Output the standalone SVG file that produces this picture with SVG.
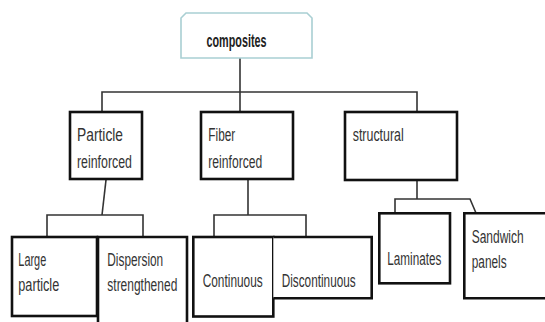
<svg xmlns="http://www.w3.org/2000/svg" width="545" height="322" viewBox="0 0 545 322">
<defs>
<style>
.box{fill:#fff;stroke:#111;stroke-width:2.6}
.top{fill:#fff;stroke:#a9cfd3;stroke-width:1.6}
.lbl{font-family:"Liberation Sans",Arial,sans-serif;font-size:18.5px;fill:#333}
.b{font-weight:bold;fill:#222}
.con{fill:none;stroke:#333;stroke-width:1.6}
</style>
</defs>
<rect width="545" height="322" fill="#fff"/>
<g id="connectors">
<path class="con" d="M240,58 V111"/>
<path class="con" d="M102,111 V92 H417 V112"/>
<path class="con" d="M106,180 L102,215"/>
<path class="con" d="M47,237 V215 H143 V237"/>
<path class="con" d="M248,180 V215"/>
<path class="con" d="M214,237 V215 H306 V237"/>
<path class="con" d="M417,180 V199"/>
<path class="con" d="M395,213 V199 H470 L476,213"/>
</g>
<g id="composites">
<path class="top" d="M181,58 V18 L186,13 H307 L312,18 V58 Z"/>
<text class="lbl b" transform="translate(206.5,47) scale(0.6,1)" textLength="100" lengthAdjust="spacingAndGlyphs">composites</text>
</g>
<g id="particle-reinforced">
<rect class="box" x="70" y="112" width="72" height="67"/>
<text class="lbl" transform="translate(77,141) scale(0.65,1)" textLength="70.8" lengthAdjust="spacingAndGlyphs">Particle</text>
<text class="lbl" transform="translate(77,168) scale(0.65,1)" textLength="84.6" lengthAdjust="spacingAndGlyphs">reinforced</text>
</g>
<g id="fiber-reinforced">
<rect class="box" x="201" y="112" width="92" height="67"/>
<text class="lbl" transform="translate(208.3,141) scale(0.65,1)" textLength="41.5" lengthAdjust="spacingAndGlyphs">Fiber</text>
<text class="lbl" transform="translate(208.3,168) scale(0.65,1)" textLength="83" lengthAdjust="spacingAndGlyphs">reinforced</text>
</g>
<g id="structural">
<rect class="box" x="345" y="112" width="112" height="68"/>
<text class="lbl" transform="translate(352.7,141) scale(0.65,1)" textLength="78.5" lengthAdjust="spacingAndGlyphs">structural</text>
</g>
<g id="large-particle">
<rect class="box" x="12" y="237" width="85" height="79"/>
<text class="lbl" transform="translate(18.3,266) scale(0.65,1)" textLength="43" lengthAdjust="spacingAndGlyphs">Large</text>
<text class="lbl" transform="translate(18.3,291) scale(0.65,1)" textLength="63" lengthAdjust="spacingAndGlyphs">particle</text>
</g>
<g id="dispersion-strengthened">
<path class="box" d="M98,326 V237 H187 V326"/>
<text class="lbl" transform="translate(107.3,266) scale(0.65,1)" textLength="86" lengthAdjust="spacingAndGlyphs">Dispersion</text>
<text class="lbl" transform="translate(107.3,291) scale(0.65,1)" textLength="107.7" lengthAdjust="spacingAndGlyphs">strengthened</text>
</g>
<g id="continuous">
<rect class="box" x="193.3" y="237" width="80" height="79.5"/>
<text class="lbl" transform="translate(202.7,287) scale(0.65,1)" textLength="92.3" lengthAdjust="spacingAndGlyphs">Continuous</text>
</g>
<g id="discontinuous">
<path class="box" d="M273.3,237 H371.7 V298.3 H273.3"/>
<text class="lbl" transform="translate(281.7,287) scale(0.65,1)" textLength="113.8" lengthAdjust="spacingAndGlyphs">Discontinuous</text>
</g>
<g id="laminates">
<rect class="box" x="379.3" y="213.3" width="70.7" height="70"/>
<text class="lbl" transform="translate(387.3,265) scale(0.65,1)" textLength="83" lengthAdjust="spacingAndGlyphs">Laminates</text>
</g>
<g id="sandwich-panels">
<path class="box" d="M550,213.3 H464.3 V298.3 H550"/>
<text class="lbl" transform="translate(471.7,243) scale(0.65,1)" textLength="80" lengthAdjust="spacingAndGlyphs">Sandwich</text>
<text class="lbl" transform="translate(471.7,268) scale(0.65,1)" textLength="53.8" lengthAdjust="spacingAndGlyphs">panels</text>
</g>
</svg>
